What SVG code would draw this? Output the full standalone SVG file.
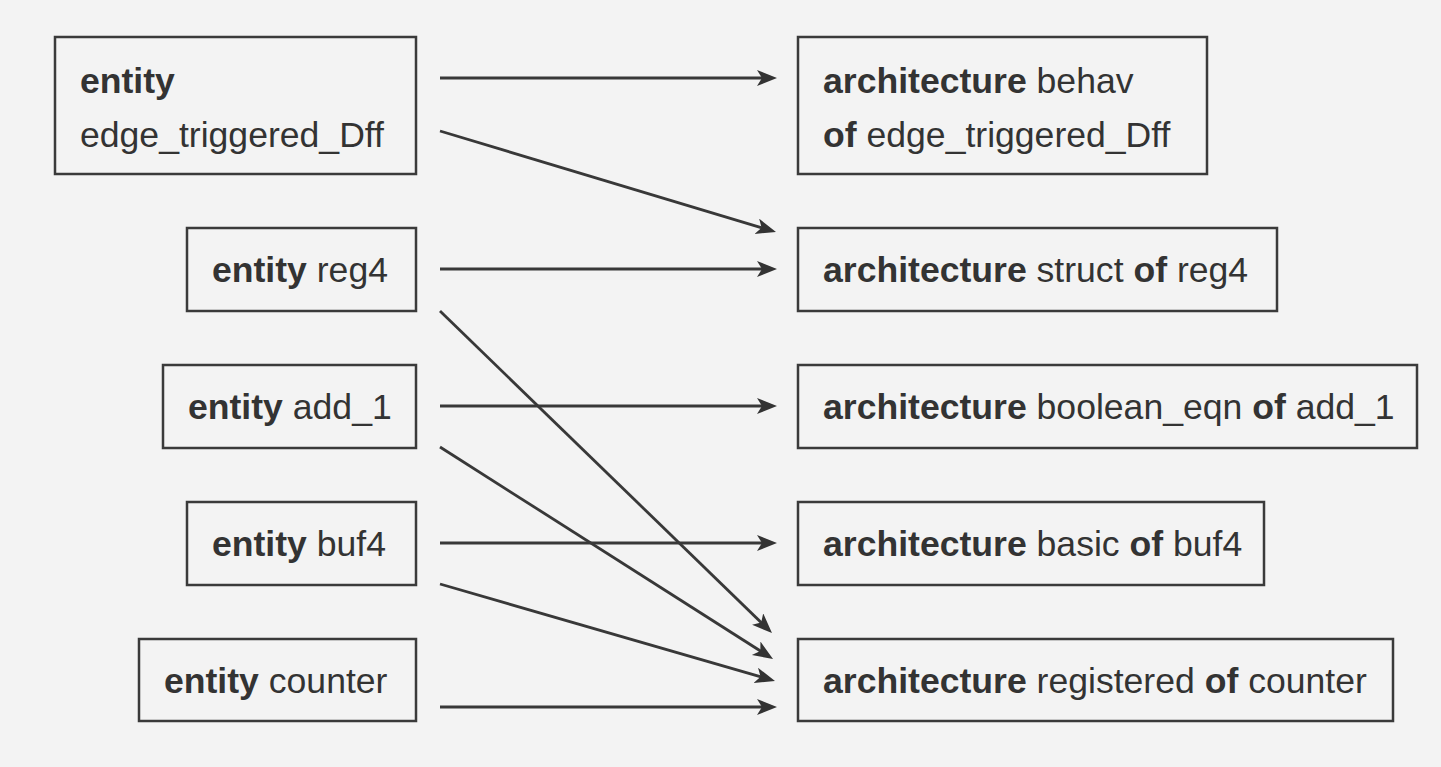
<svg xmlns="http://www.w3.org/2000/svg" width="1441" height="767" viewBox="0 0 1441 767">
  <style>
    .box { fill: none; stroke: #3a3a3a; stroke-width: 2.5; }
    .t { font-family: "Liberation Sans", Arial, sans-serif; font-size: 35.6px; fill: #333; }
    .b { font-weight: bold; }
    .c { stroke: #383838; stroke-width: 2.8; fill: none; marker-end: url(#ah); }
  </style>
  <defs>
    <marker id="ah" markerUnits="userSpaceOnUse" markerWidth="22" markerHeight="18" refX="15" refY="8" orient="auto">
      <path d="M0,0 L20,8 L0,16 L5,8 z" fill="#333"/>
    </marker>
  </defs>
  <rect width="1441" height="767" fill="#f3f3f3"/>

  <g id="entity_dff">
    <rect class="box" x="55" y="37" width="361" height="137"/>
    <text class="t b" x="80" y="93">entity</text>
    <text class="t" x="80" y="147">edge_triggered_Dff</text>
  </g>
  <g id="entity_reg4">
    <rect class="box" x="187" y="228" width="229" height="83"/>
    <text class="t" x="212" y="282"><tspan class="b">entity</tspan> reg4</text>
  </g>
  <g id="entity_add1">
    <rect class="box" x="163" y="365" width="253" height="83"/>
    <text class="t" x="188" y="419"><tspan class="b">entity</tspan> add_1</text>
  </g>
  <g id="entity_buf4">
    <rect class="box" x="187" y="502" width="229" height="83"/>
    <text class="t" x="212" y="556"><tspan class="b">entity</tspan> buf4</text>
  </g>
  <g id="entity_counter">
    <rect class="box" x="139" y="639" width="277" height="82"/>
    <text class="t" x="164" y="693"><tspan class="b">entity</tspan> counter</text>
  </g>

  <g id="arch_behav">
    <rect class="box" x="798" y="37" width="409" height="137"/>
    <text class="t" x="823" y="93"><tspan class="b">architecture</tspan> behav</text>
    <text class="t" x="823" y="147"><tspan class="b">of</tspan> edge_triggered_Dff</text>
  </g>
  <g id="arch_struct">
    <rect class="box" x="798" y="228" width="479" height="83"/>
    <text class="t" x="823" y="282"><tspan class="b">architecture</tspan> struct <tspan class="b">of</tspan> reg4</text>
  </g>
  <g id="arch_boolean">
    <rect class="box" x="798" y="365" width="619" height="83"/>
    <text class="t" x="823" y="419"><tspan class="b">architecture</tspan> boolean_eqn <tspan class="b">of</tspan> add_1</text>
  </g>
  <g id="arch_basic">
    <rect class="box" x="798" y="502" width="466" height="83"/>
    <text class="t" x="823" y="556"><tspan class="b">architecture</tspan> basic <tspan class="b">of</tspan> buf4</text>
  </g>
  <g id="arch_registered">
    <rect class="box" x="798" y="639" width="595" height="82"/>
    <text class="t" x="823" y="693"><tspan class="b">architecture</tspan> registered <tspan class="b">of</tspan> counter</text>
  </g>

  <g id="connectors">
    <line class="c" x1="440" y1="78" x2="772" y2="78"/>
    <line class="c" x1="440" y1="131" x2="771.2" y2="230.6"/>
    <line class="c" x1="440" y1="269" x2="772" y2="269"/>
    <line class="c" x1="440" y1="311" x2="768.4" y2="629.5"/>
    <line class="c" x1="440" y1="406" x2="772" y2="406"/>
    <line class="c" x1="440" y1="447" x2="768.8" y2="656.3"/>
    <line class="c" x1="440" y1="543" x2="772" y2="543"/>
    <line class="c" x1="440" y1="584" x2="770.2" y2="679.6"/>
    <line class="c" x1="440" y1="707" x2="772" y2="707"/>
  </g>
</svg>
